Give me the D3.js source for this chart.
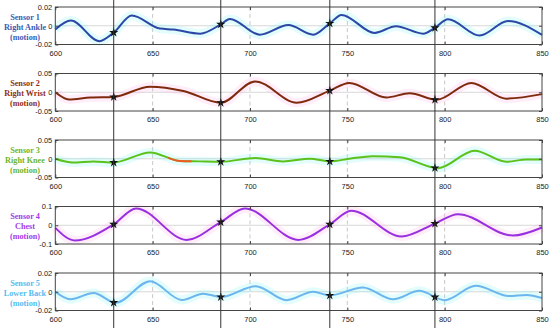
<!DOCTYPE html>
<html>
<head>
<meta charset="utf-8">
<script src="https://cdn.jsdelivr.net/npm/d3@7"></script>
<style>
  body { margin: 0; background: #fff; }
  svg { display: block; }
</style>
</head>
<body>
<script>
// sensor names / colours
var sensorNames = ["Sensor 1", "Sensor 2", "Sensor 3", "Sensor 4", "Sensor 5"];
var sensorParts = ["Right Ankle", "Right Wrist", "Right Knee", "Chest", "Lower Back"];
var labelColors = ["#3a5bb5", "#8e2f16", "#6cb52c", "#a23be8", "#55bdf0"];
var lineColors  = ["#2b48a6", "#7f2a0c", "#5bc21c", "#9a2fe0", "#6cb6ee"];
var haloColors  = ["#7ff0f0", "#ffb3e6", "#7ff0f0", "#ffb3e6", "#7ff0f0"];
var yMax = [0.02, 0.05, 0.05, 0.1, 0.02];

var xTicks = [600, 650, 700, 750, 800, 850];
var markX = [630, 685, 741, 795];

// curve key points (time, value)
var s1T = [600, 608, 622.7, 630, 639.3, 653.8, 660.7, 674.4, 685, 689.7, 705, 719.7, 732.5, 741, 747, 764, 775, 789, 795, 801.7, 818, 832.5, 850];
var s1V = [-0.004, 0.0055, -0.0164, -0.0073, 0.011, -0.003, -0.004, -0.0084, 0.0015, 0.0073, -0.0095, 0.0007, -0.0095, 0.0025, 0.0116, -0.0076, -0.0004, -0.0084, -0.0022, 0.0069, -0.0105, 0.005, -0.0098];

var s2T = [600, 607, 618, 630, 648.7, 665.8, 685, 702.6, 724, 741, 751, 770, 782, 796, 813.7, 831.6, 850];
var s2V = [0, -0.019, -0.014, -0.0125, 0.015, 0.0036, -0.028, 0.029, -0.028, 0.0045, 0.025, -0.014, -0.0027, -0.02, 0.025, -0.017, -0.005];

var s3T = [600, 609, 619.7, 630, 648.7, 664, 674, 685, 703, 717, 730.8, 741, 751, 763, 777, 796.6, 815.4, 831.6, 842, 850];
var s3V = [0, -0.01, -0.007, -0.01, 0.017, -0.006, -0.007, -0.008, 0.002, -0.007, 0, -0.007, 0, 0.007, 0.004, -0.025, 0.0215, -0.008, -0.002, -0.002];
var s3RedT = [658, 670];

var s4T = [600, 610, 630, 641.5, 667.5, 685, 697.4, 724.8, 741, 752, 777.8, 795, 806.8, 835, 850];
var s4V = [-0.014, -0.081, 0.005, 0.09, -0.078, 0.017, 0.09, -0.078, 0.005, 0.078, -0.06, 0.009, 0.059, -0.055, -0.012];

var s5T = [600, 607.7, 619.7, 631, 648.7, 665, 676, 685, 703, 718.8, 732.5, 741, 758, 773.5, 787, 800, 816, 833, 842, 850];
var s5V = [0, -0.008, -0.0014, -0.0118, 0.0112, -0.0088, -0.002, -0.0056, 0.006, -0.009, 0, -0.0039, 0.0046, -0.008, 0.001, -0.009, 0.0063, -0.0046, -0.0035, -0.0067];

var allT = [s1T, s2T, s3T, s4T, s5T];
var allV = [s1V, s2V, s3V, s4V, s5V];

var W = 550, H = 328;
var left = 55.3, right = 542;
var top0 = 7, step = 66.5, ph = 37.5;
var tickFont = "Liberation Sans, Arial, sans-serif";

var svg = d3.select("body").append("svg")
    .attr("width", W)
    .attr("height", H);

var x = d3.scaleLinear().domain([600, 850]).range([left, right]);

allT.forEach(function(ts, i) {
    var pts = ts.map(function(t, j) { return [t, allV[i][j]]; });
    var ptop = top0 + i * step;
    var y = d3.scaleLinear().domain([-yMax[i], yMax[i]]).range([ptop + ph, ptop]);
    var g = svg.append("g");

    // grid
    g.selectAll(".gx")
      .data(xTicks.slice(1, -1))
     .enter().append("line")
      .attr("x1", x).attr("x2", x)
      .attr("y1", ptop).attr("y2", ptop + ph)
      .style("stroke", "#c8c8c8")
      .style("stroke-dasharray", "4,3");
    g.append("line")
      .attr("x1", left).attr("x2", right)
      .attr("y1", y(0)).attr("y2", y(0))
      .style("stroke", "#d8d8d8");

    var line = d3.line()
      .x(function(d) { return x(d[0]); })
      .y(function(d) { return y(d[1]); })
      .curve(d3.curveMonotoneX);

    // faint halo round the curve
    g.append("path")
      .datum(pts)
      .attr("d", line)
      .style("fill", "none")
      .style("stroke", haloColors[i])
      .style("stroke-opacity", 0.22)
      .style("stroke-width", 9);

    var path = g.append("path")
      .datum(pts)
      .attr("d", line)
      .style("fill", "none")
      .style("stroke", lineColors[i])
      .style("stroke-width", 2);

    if (i == 2) {
      // orange-red stretch on knee trace
      var clipId = "clipred";
      svg.append("clipPath").attr("id", clipId)
        .append("rect")
        .attr("x", x(s3RedT[0])).attr("width", x(s3RedT[1]) - x(s3RedT[0]))
        .attr("y", ptop).attr("height", ph);
      g.append("path")
        .datum(pts)
        .attr("d", line)
        .attr("clip-path", "url(#" + clipId + ")")
        .style("fill", "none")
        .style("stroke", "#ee5a24")
        .style("stroke-width", 2);
    }

    // axes box
    g.append("rect")
      .attr("x", left).attr("y", ptop)
      .attr("width", right - left).attr("height", ph)
      .style("fill", "none")
      .style("stroke", "#444")
      .style("stroke-width", 1);

    var xa = g.append("g")
      .attr("transform", "translate(0," + (ptop + ph) + ")")
      .call(d3.axisBottom(x).tickValues(xTicks).tickSize(-3).tickPadding(6).tickFormat(d3.format("d")));
    xa.select(".domain").remove();
    xa.selectAll("line").style("stroke", "#444");
    xa.selectAll("text").style("font-family", tickFont).style("font-size", "7.5px").style("fill", "#222");

    var xt = g.append("g")
      .attr("transform", "translate(0," + ptop + ")")
      .call(d3.axisTop(x).tickValues(xTicks).tickSize(-3).tickFormat(""));
    xt.select(".domain").remove();
    xt.selectAll("line").style("stroke", "#444");

    var ya = g.append("g")
      .attr("transform", "translate(" + left + ",0)")
      .call(d3.axisLeft(y).tickValues([-yMax[i], 0, yMax[i]]).tickSize(-3).tickPadding(3)
        .tickFormat(function(d) { return String(d); }));
    ya.select(".domain").remove();
    ya.selectAll("line").style("stroke", "#444");
    ya.selectAll("text").style("font-family", tickFont).style("font-size", "7.5px").style("fill", "#222");

    var yr = g.append("g")
      .attr("transform", "translate(" + right + ",0)")
      .call(d3.axisRight(y).tickValues([-yMax[i], 0, yMax[i]]).tickSize(-3).tickFormat(""));
    yr.select(".domain").remove();
    yr.selectAll("line").style("stroke", "#444");

    // label
    var cy = ptop + ph / 2;
    var lab = g.append("text")
      .attr("x", 25)
      .attr("text-anchor", "middle")
      .style("font-family", "Liberation Serif, Times New Roman, serif")
      .style("font-weight", "bold")
      .style("font-size", "8.2px")
      .style("fill", labelColors[i]);
    [sensorNames[i], sensorParts[i], "(motion)"].forEach(function(s, k) {
      lab.append("tspan").attr("x", 25).attr("y", cy - 6 + k * 10).text(s);
    });

    // star markers where the black cursor lines cross
    var p = path.node(), len = p.getTotalLength();
    var yAt = function(t) {
      var lo = 0, hi = len, px = x(t), pt;
      for (var it = 0; it < 30; it++) {
        var mid = (lo + hi) / 2;
        pt = p.getPointAtLength(mid);
        if (pt.x < px) lo = mid; else hi = mid;
      }
      return pt.y;
    };
    g.selectAll(".mark")
      .data(markX)
     .enter().append("path")
      .attr("d", d3.symbol().type(d3.symbolStar).size(26))
      .attr("transform", function(d) { return "translate(" + x(d) + "," + yAt(d) + ")"; })
      .style("fill", "#111");
});

// black cursor lines through all panels
svg.selectAll(".cursor")
  .data(markX)
 .enter().append("line")
  .attr("x1", x).attr("x2", x)
  .attr("y1", 0).attr("y2", H)
  .style("stroke", "#333")
  .style("stroke-width", 1);
</script>
</body>
</html>
